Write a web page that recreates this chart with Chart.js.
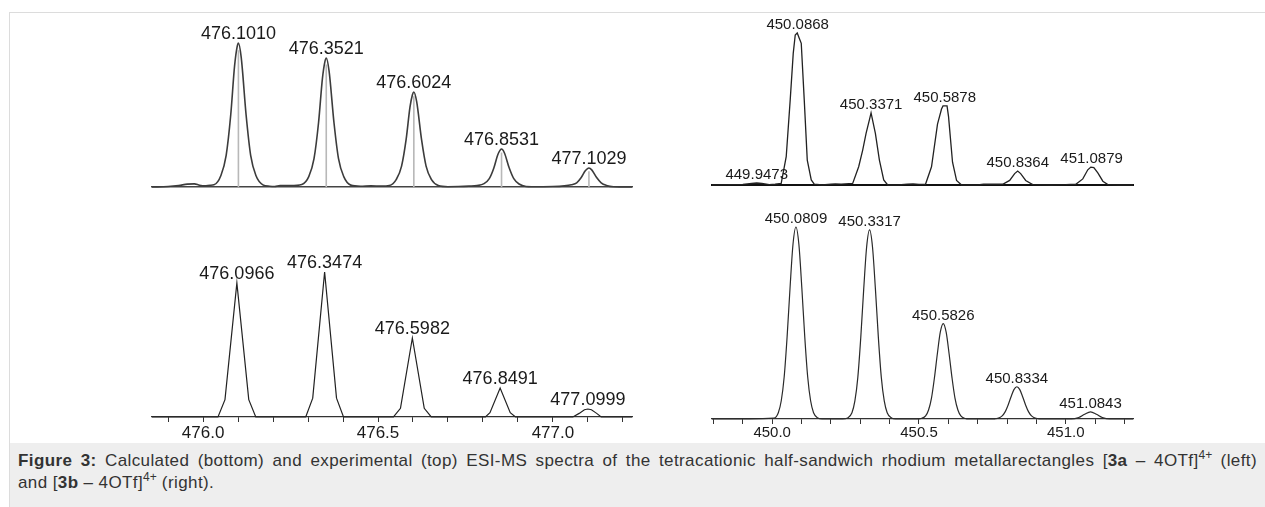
<!DOCTYPE html>
<html>
<head>
<meta charset="utf-8">
<script src="https://cdn.jsdelivr.net/npm/chart.js@4.4.1/dist/chart.umd.min.js"></script>
<style>
  body { margin: 0; width: 1265px; height: 507px; background: #fff; position: relative; overflow: hidden;
         font-family: "Liberation Sans", Arial, sans-serif; }
  .frame { position: absolute; left: 9px; top: 12px; right: 0; bottom: 0;
           border-top: 1px solid #dcdcdc; border-left: 1px solid #dcdcdc; }
  canvas { position: absolute; }
  #caption { position: absolute; left: 10px; top: 443px; width: 1255px; height: 64px; background: #eeeeee;
             color: #333; font-size: 17px; letter-spacing: 0.4px; line-height: 22px; box-sizing: border-box;
             padding: 7px 8px 0 8px; }
  #caption .first { text-align: justify; text-align-last: justify; }
  #caption sup { font-size: 12px; line-height: 0; vertical-align: 7px; letter-spacing: 0; }
</style>
</head>
<body>
<div class="frame"></div>
<canvas id="expLeft" style="left:0;top:0"></canvas>
<canvas id="calcLeft" style="left:0;top:200px"></canvas>
<canvas id="expRight" style="left:660px;top:0"></canvas>
<canvas id="calcRight" style="left:660px;top:200px"></canvas>
<div id="caption"><div class="first"><b>Figure 3:</b> Calculated (bottom) and experimental (top) ESI-MS spectra of the tetracationic half-sandwich rhodium metallarectangles [<b>3a</b> – 4OTf]<sup>4+</sup> (left)</div><div>and [<b>3b</b> – 4OTf]<sup>4+</sup> (right).</div></div>

<script>
// m/z axis ranges
const leftRange = [475.854, 477.226];
const rightRange = [449.795, 451.229];

// experimental, left (3a)
const expLeftMz = [
  475.854, 475.90, 475.93, 475.955, 475.975, 475.99, 476.005, 476.02,
  476.031, 476.051, 476.066, 476.079, 476.090, 476.097, 476.101, 476.109, 476.123, 476.136, 476.151, 476.171,
  476.19, 476.205, 476.22, 476.25,
  476.2821, 476.3021, 476.3171, 476.3301, 476.3411, 476.3481, 476.3521, 476.3601, 476.3741, 476.3871, 476.4021, 476.4221,
  476.45, 476.48, 476.51,
  476.5324, 476.5524, 476.5674, 476.5804, 476.5914, 476.5984, 476.6024, 476.6104, 476.6244, 476.6374, 476.6524, 476.6724,
  476.70, 476.73, 476.76,
  476.7831, 476.8031, 476.8181, 476.8311, 476.8421, 476.8491, 476.8531, 476.8611, 476.8751, 476.8881, 476.9031, 476.9231,
  476.96, 477.0,
  477.0329, 477.0529, 477.0679, 477.0809, 477.0919, 477.0989, 477.1029, 477.1109, 477.1249, 477.1379, 477.1529, 477.1729,
  477.226
];
const expLeftInt = [
  0, 0.3, 1.0, 2.0, 2.2, 1.2, 0.8, 1.2,
  1.5, 8, 22, 50, 84, 97, 100, 90, 50, 22, 8, 1.5,
  0.5, 0.3, 1.0, 1.0,
  1.8, 7.2, 19.7, 44.8, 75.3, 86.9, 89.6, 80.6, 44.8, 19.7, 7.2, 1.3,
  0.5, 0.8, 0.6,
  1.0, 5.3, 14.5, 33, 55.4, 64, 66, 59.4, 33, 14.5, 5.3, 1.0,
  0.2, 0.3, 0.6,
  1.0, 2.3, 5.8, 13.2, 22.2, 25.6, 26.4, 23.8, 13.2, 5.8, 2.1, 0.4,
  0.2, 0.3,
  0.8, 1.6, 2.9, 6.6, 11.1, 12.8, 13.2, 11.9, 6.6, 2.9, 1.1, 0.2,
  0
];
const expLeftPeakMz = [476.1010, 476.3521, 476.6024, 476.8531, 477.1029];
const expLeftPeakInt = [100, 89.6, 66, 26.4, 13.2];
const expLeftStickInt = [95, 85, 63, 24, 11];

// calculated, left (3a)
const calcLeftMz = [
  475.854,
  476.0426, 476.0626, 476.0966, 476.1306, 476.1506,
  476.2934, 476.3134, 476.3474, 476.3814, 476.4014,
  476.5442, 476.5642, 476.5982, 476.6322, 476.6522,
  476.807, 476.82, 476.8491, 476.878, 476.893,
  477.057, 477.075, 477.09, 477.0999, 477.11, 477.125, 477.138,
  477.226
];
const calcLeftInt = [
  0,
  0, 12, 92.4, 12, 0,
  0, 13, 100, 13, 0,
  0, 6, 54.5, 6, 0,
  0, 3, 20, 3, 0,
  0, 2.5, 5, 5.5, 5, 2.5, 0,
  0
];
const calcLeftPeakMz = [476.0966, 476.3474, 476.5982, 476.8491, 477.0999];
const calcLeftPeakInt = [92.4, 100, 54.5, 20, 5.5];

// experimental, right (3b)
const expRightMz = [
  449.795, 449.86, 449.90, 449.93, 449.9473, 449.965, 449.99, 450.01,
  450.0307, 450.0478, 450.0614, 450.0717, 450.0785, 450.0853, 450.0922, 450.099, 450.1092, 450.1195, 450.1331, 450.1433,
  450.17, 450.20, 450.215, 450.235,
  450.2742, 450.2946, 450.3083, 450.3198, 450.3311, 450.3368, 450.3515, 450.3652, 450.3799, 450.3935,
  450.43, 450.46, 450.48, 450.50,
  450.5222, 450.5427, 450.5631, 450.5768, 450.5819, 450.5956, 450.6007, 450.6143, 450.628, 450.6451,
  450.70, 450.72, 450.75,
  450.785, 450.8089, 450.8259, 450.8362, 450.8464, 450.8635, 450.8874,
  450.95, 451.0,
  451.0341, 451.058, 451.075, 451.0853, 451.0956, 451.1092, 451.1263, 451.1433,
  451.18, 451.229
];
const expRightInt = [
  0, 0.2, 0.4, 1.0, 1.3, 1.0, 0.3, 0.5,
  1.0, 18.6, 56, 86.6, 98.7, 100, 96.5, 93.2, 56, 16.4, 3.3, 0.5,
  0, 0.5, 0.8, 0.6,
  1.0, 12, 23, 34, 42.8, 47.4, 34, 16.4, 3.3, 0,
  0, 0.6, 0.7, 0.4,
  0.5, 12, 40, 50, 52, 52, 45, 15, 3, 0,
  0, 0.5, 0.5,
  0.5, 3, 7.5, 9.2, 7.5, 3, 0.3,
  0, 0.2,
  0.5, 4, 10, 11.8, 11.5, 8, 2.5, 0.3,
  0, 0
];
const expRightPeakMz = [449.9473, 450.0868, 450.3371, 450.5878, 450.8364, 451.0879];
const expRightPeakInt = [1.3, 100, 47.4, 52, 9.2, 11.8];

// calculated, right (3b)
const calcRightMz = [
  449.795,
  450.0059, 450.0209, 450.0309, 450.0409, 450.0509, 450.0609, 450.0709, 450.0809,
  450.0909, 450.1009, 450.1109, 450.1209, 450.1309, 450.1409, 450.1559, 450.17,
  450.24, 450.2567, 450.2717, 450.2817, 450.2917, 450.3017, 450.3117, 450.3217, 450.3317,
  450.3417, 450.3517, 450.3617, 450.3717, 450.3817, 450.3917, 450.4067, 450.42,
  450.49, 450.5076, 450.5226, 450.5326, 450.5426, 450.5526, 450.5626, 450.5726, 450.5826,
  450.5926, 450.6026, 450.6126, 450.6226, 450.6326, 450.6426, 450.6576, 450.67,
  450.745, 450.7584, 450.7734, 450.7834, 450.7934, 450.8034, 450.8134, 450.8234, 450.8334,
  450.8434, 450.8534, 450.8634, 450.8734, 450.8834, 450.8934, 450.9084, 450.92,
  451.0193, 451.0443, 451.0643, 451.0843, 451.1043, 451.1243, 451.1493,
  451.229
];
const calcRightInt = [
  0,
  0.5, 3.3, 9.5, 22, 43, 68.5, 91, 100,
  91, 68.5, 43, 22, 9.5, 3.3, 0.5, 0,
  0, 0.5, 3.3, 9.4, 21.7, 42.4, 67.5, 89.6, 98.5,
  89.6, 67.5, 42.4, 21.7, 9.4, 3.3, 0.5, 0,
  0, 0.25, 1.6, 4.7, 10.9, 21.4, 34, 45.2, 49.7,
  45.2, 34, 21.4, 10.9, 4.7, 1.6, 0.25, 0,
  0, 0.1, 0.6, 1.6, 3.7, 7.2, 11.5, 15.3, 16.8,
  15.3, 11.5, 7.2, 3.7, 1.6, 0.6, 0.1, 0,
  0, 0.8, 2.5, 3.7, 2.5, 0.8, 0,
  0
];
const calcRightPeakMz = [450.0809, 450.3317, 450.5826, 450.8334, 451.0843];
const calcRightPeakInt = [100, 98.5, 49.7, 16.8, 3.7];

const fontFamily = '"Liberation Sans", Arial, sans-serif';

const toPoints = (xs, ys) => xs.map((x, i) => ({ x: x, y: ys[i] }));

// m/z text above each peak
const peakLabels = {
  id: 'peakLabels',
  afterDatasetsDraw(chart, args, opts) {
    const { ctx, scales } = chart;
    ctx.save();
    ctx.font = opts.size + 'px ' + fontFamily;
    ctx.fillStyle = '#1a1a1a';
    ctx.textAlign = 'center';
    ctx.textBaseline = 'alphabetic';
    opts.mz.forEach((m, i) => {
      ctx.fillText(m.toFixed(4), scales.x.getPixelForValue(m), scales.y.getPixelForValue(opts.height[i]) - 4);
    });
    ctx.restore();
  }
};

const makeSpectrum = (id, cfg) => {
  const canvas = document.getElementById(id);
  canvas.width = cfg.width;
  canvas.height = cfg.height;
  canvas.style.width = cfg.width + 'px';
  canvas.style.height = cfg.height + 'px';

  const datasets = [{
    data: toPoints(cfg.mz, cfg.intensity),
    borderColor: cfg.lineColor,
    borderWidth: cfg.lineWidth,
    pointRadius: 0,
    tension: cfg.smooth ? 0.4 : 0,
    cubicInterpolationMode: cfg.smooth ? 'monotone' : 'default',
    clip: false,
    order: 1
  }];
  if (cfg.sticks) {
    datasets.push({
      data: cfg.peakMz.flatMap((m, i) => [{ x: m, y: 0 }, { x: m, y: cfg.sticks[i] }, { x: m, y: null }]),
      borderColor: '#b8b8b8',
      borderWidth: 1.6,
      pointRadius: 0,
      tension: 0,
      clip: false,
      order: 2
    });
  }

  return new Chart(canvas, {
    type: 'line',
    data: { datasets: datasets },
    options: {
      responsive: false,
      animation: false,
      layout: { padding: cfg.padding },
      scales: {
        x: {
          type: 'linear',
          min: cfg.range[0],
          max: cfg.range[1],
          afterFit: (s) => { s.height = cfg.axisHeight; },
          grid: {
            display: cfg.ticks,
            drawOnChartArea: false,
            drawTicks: true,
            tickLength: 5,
            color: '#333',
            lineWidth: 1
          },
          border: { display: true, color: cfg.axisColor, width: cfg.axisWidth },
          ticks: {
            display: cfg.ticks,
            stepSize: 0.1,
            includeBounds: false,
            autoSkip: false,
            maxRotation: 0,
            padding: cfg.tickPadding || 0,
            color: '#1a1a1a',
            font: { size: cfg.tickSize || 12, family: fontFamily },
            callback: (v) => Math.abs(v * 2 - Math.round(v * 2)) < 1e-6 ? v.toFixed(1) : ''
          }
        },
        y: { display: false, min: 0, max: 100 }
      },
      plugins: {
        legend: { display: false },
        tooltip: { enabled: false },
        peakLabels: { mz: cfg.peakMz, height: cfg.peakInt, size: cfg.labelSize }
      }
    },
    plugins: [peakLabels]
  });
};

makeSpectrum('expLeft', {
  width: 640, height: 200, padding: { left: 152, right: 8, top: 43, bottom: 13 },
  range: leftRange, mz: expLeftMz, intensity: expLeftInt,
  peakMz: expLeftPeakMz, peakInt: expLeftPeakInt, sticks: expLeftStickInt,
  lineColor: '#3c3c3c', lineWidth: 1.6, smooth: true,
  axisHeight: 0, ticks: false, axisColor: '#444', axisWidth: 1.6, labelSize: 18
});

makeSpectrum('calcLeft', {
  width: 640, height: 243, padding: { left: 152, right: 8, top: 72, bottom: 0 },
  range: leftRange, mz: calcLeftMz, intensity: calcLeftInt,
  peakMz: calcLeftPeakMz, peakInt: calcLeftPeakInt,
  lineColor: '#222', lineWidth: 1.2, smooth: false,
  axisHeight: 26, ticks: true, tickSize: 17, tickPadding: 1, axisColor: '#333', axisWidth: 1.2, labelSize: 18
});

makeSpectrum('expRight', {
  width: 605, height: 200, padding: { left: 52, right: 132, top: 33, bottom: 15 },
  range: rightRange, mz: expRightMz, intensity: expRightInt,
  peakMz: expRightPeakMz, peakInt: expRightPeakInt,
  lineColor: '#222', lineWidth: 1.3, smooth: false,
  axisHeight: 0, ticks: false, axisColor: '#111', axisWidth: 2, labelSize: 15
});

makeSpectrum('calcRight', {
  width: 605, height: 243, padding: { left: 52, right: 132, top: 27, bottom: 0 },
  range: rightRange, mz: calcRightMz, intensity: calcRightInt,
  peakMz: calcRightPeakMz, peakInt: calcRightPeakInt,
  lineColor: '#2a2a2a', lineWidth: 1.2, smooth: true,
  axisHeight: 24, ticks: true, tickSize: 15, tickPadding: 0, axisColor: '#333', axisWidth: 1.2, labelSize: 15
});
</script>
</body>
</html>
